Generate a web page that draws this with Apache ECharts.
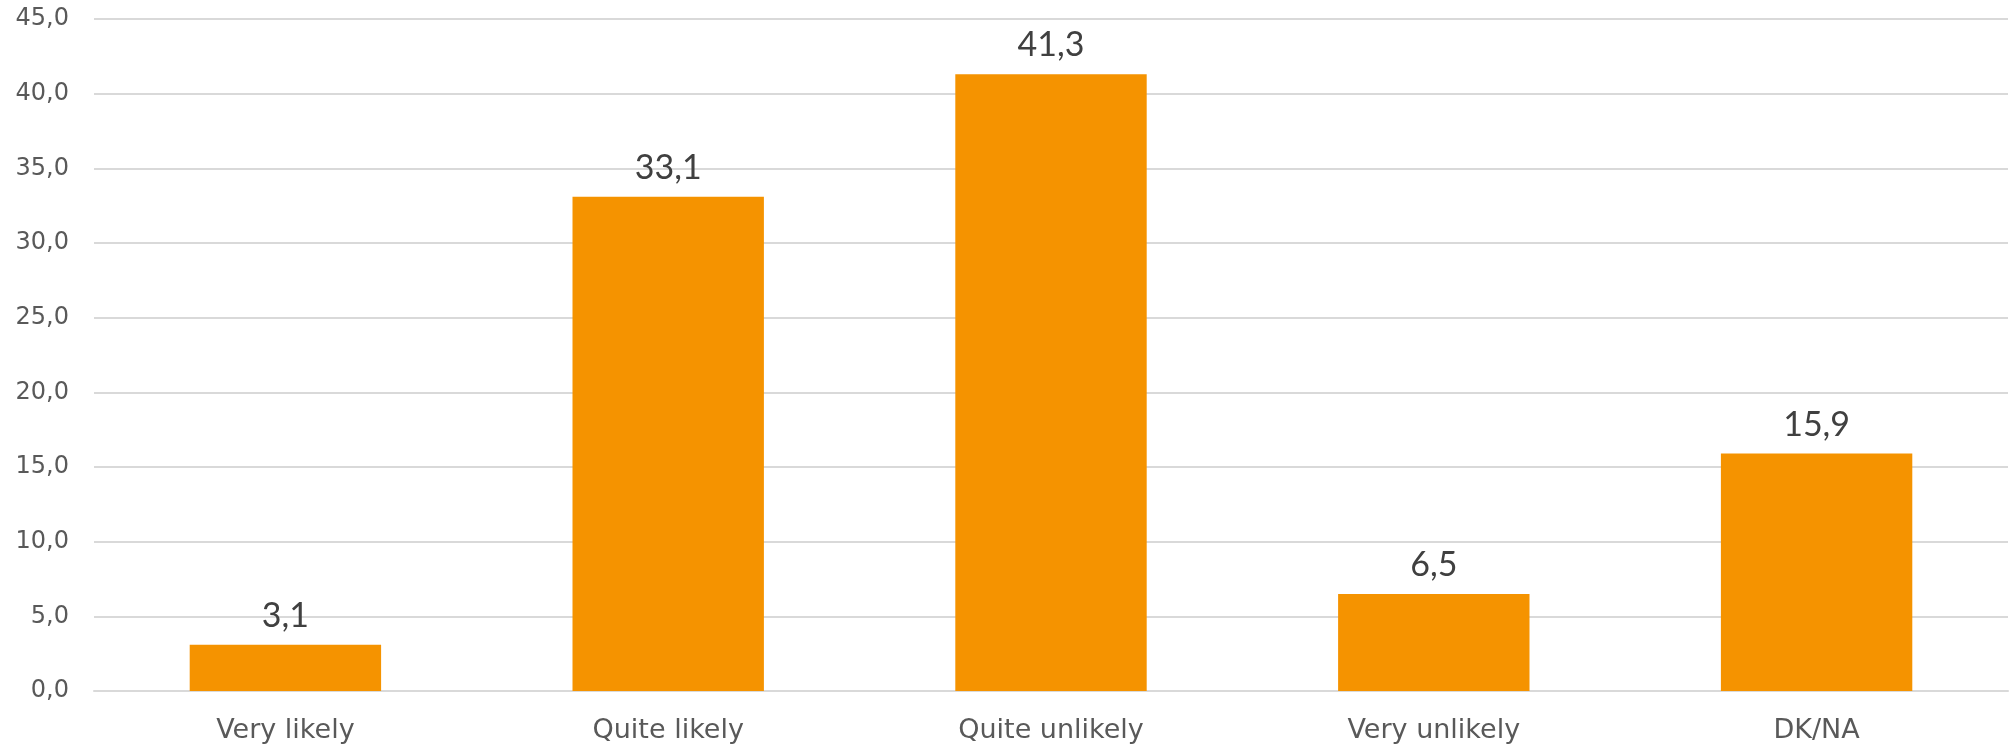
<!DOCTYPE html>
<html><head><meta charset="utf-8">
<script src="https://cdn.jsdelivr.net/npm/echarts@6/dist/echarts.min.js"></script>
<style>html,body{margin:0;padding:0;background:#fff}#c{width:2010px;height:751px}</style>
</head><body><div id="c"></div>
<script>
const categories = ["Very likely", "Quite likely", "Quite unlikely", "Very unlikely", "DK/NA"];
const values = [3.1, 33.1, 41.3, 6.5, 15.9];
const fmt = v => v.toFixed(1).replace('.', ',');
const chart = echarts.init(document.getElementById('c'));
chart.setOption({
  animation: false,
  textStyle: { fontFamily: '"DejaVu Sans", sans-serif' },
  grid: { left: 94, right: 2, top: 19, bottom: 60, containLabel: false },
  xAxis: {
    type: 'category', data: categories,
    axisLine: { lineStyle: { color: '#d9d9d9', width: 2 } },
    axisTick: { show: false },
    axisLabel: { color: '#595959', fontSize: 27, fontFamily: '"DejaVu Sans", sans-serif', margin: 26 }
  },
  yAxis: {
    type: 'value', min: 0, max: 45, interval: 5,
    axisLine: { show: false }, axisTick: { show: false },
    splitLine: { lineStyle: { color: '#d9d9d9', width: 2 } },
    axisLabel: { color: '#595959', fontSize: 24, fontFamily: '"DejaVu Sans", sans-serif', margin: 25, formatter: v => fmt(v) }
  },
  series: [{
    type: 'bar', data: values, barCategoryGap: '50%',
    itemStyle: { color: '#F59300' },
    label: { show: true, position: 'top', distance: 12, color: '#404040', fontSize: 34, fontFamily: 'Lato, sans-serif', formatter: p => fmt(p.value) }
  }]
});
</script></body></html>
